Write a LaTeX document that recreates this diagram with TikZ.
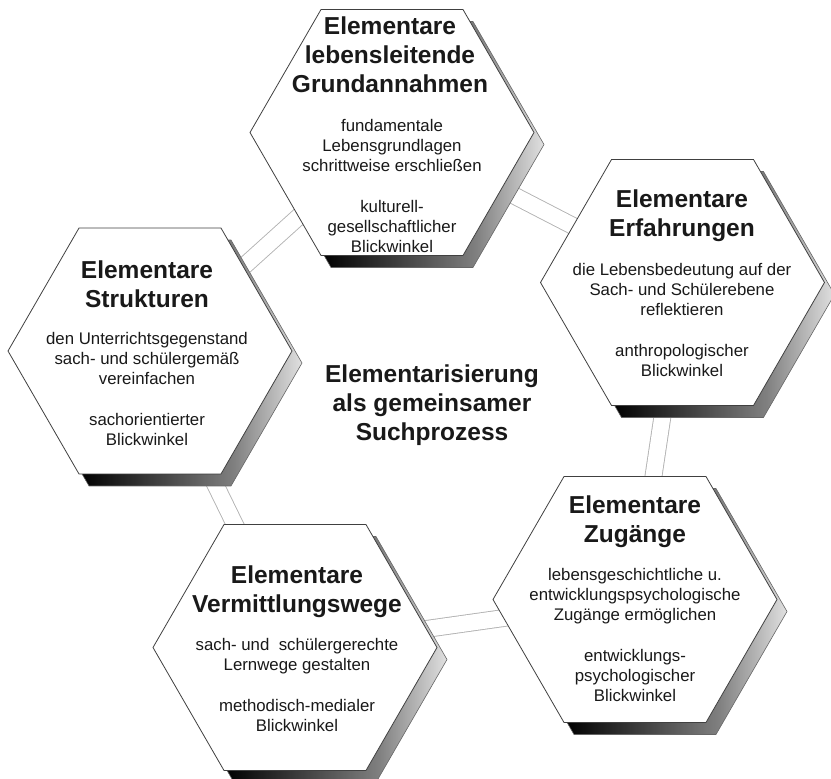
\documentclass[tikz,border=0pt]{standalone}
\usepackage{fontspec}
\setmainfont{Liberation Sans}
\usetikzlibrary{shapes.geometric}
\pgfdeclarelayer{bg}
\pgfsetlayers{bg,main}
\pgfdeclarehorizontalshading{hexshade}{100bp}{color(0bp)=(black); color(36bp)=(black); color(63bp)=(black!50); color(75bp)=(black!12); color(100bp)=(black!12)}
\begin{document}
\begin{tikzpicture}[x=1pt,y=-1pt,
 hexa/.style={regular polygon, regular polygon sides=6, minimum size=284pt, inner sep=0pt, outer sep=0pt},
 hexbox/.style={hexa, draw=black!75, line width=0.8pt, fill=white},
 hexshadow/.style={hexa, draw=black!60, line width=0.6pt, shade, shading=hexshade},
 title/.style={font=\fontsize{24.5}{29}\selectfont\bfseries, align=center, text=black!90, inner sep=0pt},
 body/.style={font=\fontsize{16.8}{20.3}\selectfont, align=center, text=black!90, inner sep=0pt},
 conn/.style={draw=black!30, line width=0.9pt, double=white, double distance=16pt}]
\useasboundingbox (0,0) rectangle (831,779);
\clip (0,0) rectangle (831,779);
% shadows
\node[hexshadow] (topS) at (402,144.5) {};
\node[hexshadow] (rightS) at (692.5,294.5) {};
\node[hexshadow] (leftS) at (160,363) {};
\node[hexshadow] (blS) at (305,659.5) {};
\node[hexshadow] (brS) at (645,611.5) {};
% hexagons
\node[hexbox] (top) at (392,132.5) {};
\node[hexbox] (right) at (682.5,282.5) {};
\node[hexbox] (left) at (150,351) {};
\node[hexbox] (bl) at (295,647.5) {};
\node[hexbox] (br) at (635,599.5) {};
% connectors
\begin{pgfonlayer}{bg}
\draw[conn] (top.center) -- (right.center);
\draw[conn] (right.center) -- (br.center);
\draw[conn] (br.center) -- (bl.center);
\draw[conn] (bl.center) -- (left.center);
\draw[conn] (left.center) -- (top.center);
\end{pgfonlayer}
% texts
\node[title] (topT) at (390,55) {Elementare\\lebensleitende\\Grundannahmen};
\node[body] (topB) at (392,186) {fundamentale\\Lebensgrundlagen\\schrittweise erschließen\\[20.3pt]kulturell-\\gesellschaftlicher\\Blickwinkel};
\node[title] (rightT) at (682,216) {Elementare\\Erfahrungen};
\node[body] (rightB) at (682,320) {die Lebensbedeutung auf der\\Sach- und Schülerebene\\reflektieren\\[20.3pt]anthropologischer\\Blickwinkel};
\node[title] (leftT) at (147,284) {Elementare\\Strukturen};
\node[body] (leftB) at (147,389) {den Unterrichtsgegenstand\\sach- und schülergemäß\\vereinfachen\\[20.3pt]sachorientierter\\Blickwinkel};
\node[title] (blT) at (297,592) {Elementare\\Vermittlungswege};
\node[body] (blB) at (297,685) {sach- und\ \ schülergerechte\\Lernwege gestalten\\[20.3pt]methodisch-medialer\\Blickwinkel};
\node[title] (brT) at (635,522) {Elementare\\Zugänge};
\node[body] (brB) at (635,635) {lebensgeschichtliche u.\\entwicklungspsychologische\\Zugänge ermöglichen\\[20.3pt]entwicklungs-\\psychologischer\\Blickwinkel};
\node[title] (center) at (432,405) {Elementarisierung\\als gemeinsamer\\Suchprozess};
\end{tikzpicture}
\end{document}
